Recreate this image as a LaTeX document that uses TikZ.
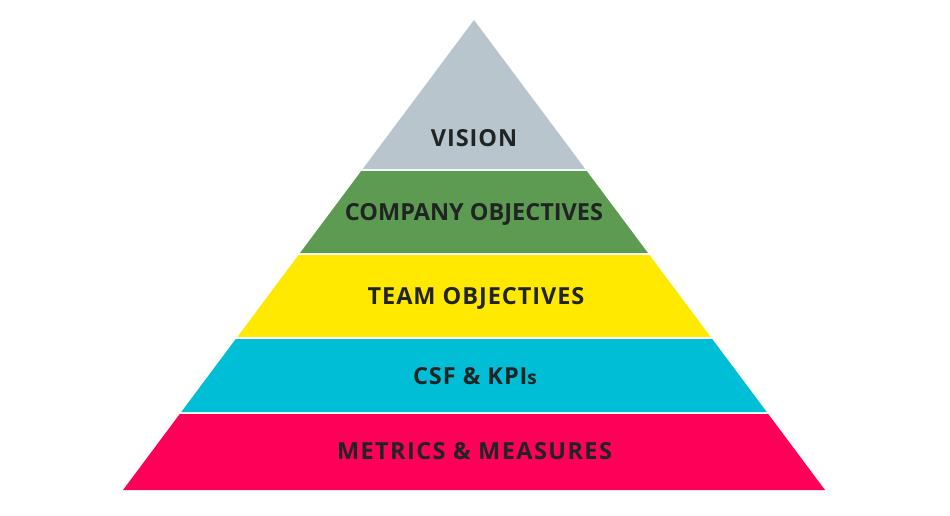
\documentclass[tikz,border=0pt]{standalone}
\usepackage{fontspec}
\setmainfont{Open Sans}
\usepackage{tikz}
\usetikzlibrary{positioning,calc}
\definecolor{visiongray}{HTML}{B8C5CD}
\definecolor{companygreen}{HTML}{5E9B52}
\definecolor{teamyellow}{HTML}{FFE900}
\definecolor{csfcyan}{HTML}{00BED6}
\definecolor{metricred}{HTML}{FF0059}
\definecolor{labeldark}{HTML}{202423}
\tikzset{
    layer/.style={draw=none},
    layerlabel/.style={font=\bfseries\fontsize{23.5}{26}\selectfont\addfontfeature{LetterSpace=#1}, text=labeldark, inner sep=0pt},
    layerlabel/.default=4,
}
% left/right edge of the pyramid at height y
\newcommand{\pyrL}[1]{{474-0.7468*(#1-20)},#1}
\newcommand{\pyrR}[1]{{474+0.7468*(#1-20)},#1}

\begin{document}
\begin{tikzpicture}[x=1pt,y=-1pt]
    \useasboundingbox (0,0) rectangle (950,515);

    % layers, top to bottom
    \fill[layer, visiongray] (474,20) -- (\pyrR{169}) -- (\pyrL{169}) -- cycle;
    \foreach \ytop/\ybot/\col in {171/253/companygreen, 255/337/teamyellow, 339/412/csfcyan, 414/490/metricred}
        \fill[layer, \col] (\pyrL{\ytop}) -- (\pyrR{\ytop}) -- (\pyrR{\ybot}) -- (\pyrL{\ybot}) -- cycle;

    % labels
    \node[layerlabel] (vision) at (474,138.5) {VISION};
    \node[layerlabel=0] (company) at (474,214) {COMPANY OBJECTIVES};
    \node[layerlabel] (team) at (476,298.5) {TEAM OBJECTIVES};
    \node[layerlabel] (csf) at (475,376.5) {CSF \& KPI{\fontsize{19}{21}\selectfont s}};
    \node[layerlabel=6] (metrics) at (474.5,451.5) {METRICS \& MEASURES};
\end{tikzpicture}
\end{document}
